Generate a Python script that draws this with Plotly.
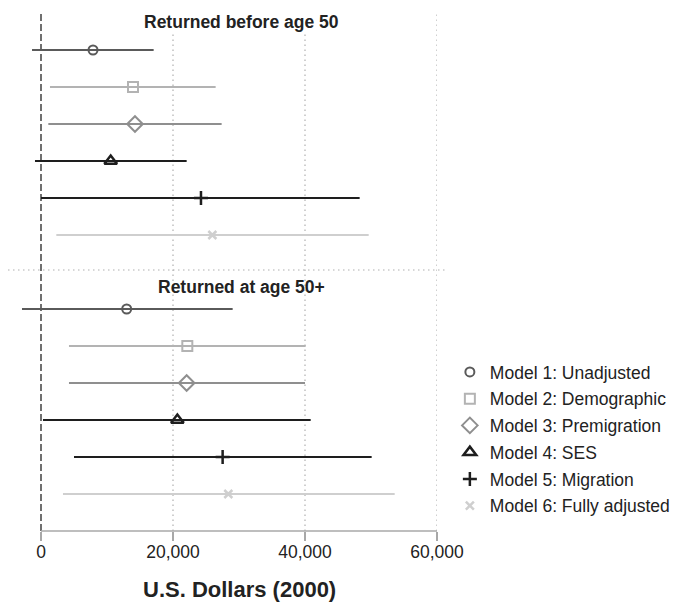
import plotly.graph_objects as go

# Model labels and styling per model
models = ["Model 1: Unadjusted", "Model 2: Demographic", "Model 3: Premigration",
          "Model 4: SES", "Model 5: Migration", "Model 6: Fully adjusted"]
rows = [1, 2, 3, 4, 5, 6]

# Returned before age 50: point estimates and 95% interval bounds
before_est = [7880, 13940, 14240, 10560, 24240, 25960]
before_lo = [-1360, 1360, 1110, -910, 0, 2320]
before_hi = [17070, 26460, 27370, 22070, 48280, 49650]

# Returned at age 50+
after_est = [12980, 22170, 22070, 20660, 27520, 28380]
after_lo = [-2880, 4240, 4240, 300, 5000, 3330]
after_hi = [29040, 40100, 40000, 40860, 50100, 53590]

tick_vals = [0, 20000, 40000, 60000]
tick_text = ["0", "20,000", "40,000", "60,000"]

colors = ["#5a5a5a", "#b3b3b3", "#8f8f8f", "#1e1e1e", "#1e1e1e", "#cfcfcf"]
symbols = ["circle-open", "square-open", "diamond-open", "triangle-up-open",
           "cross-thin-open", "x-thin-open"]
sizes = [9, 10, 12, 11, 10, 8]
mwidths = [2, 2, 2, 2.5, 2.5, 2.5]

FONT = "Liberation Sans, Arial, sans-serif"

fig = go.Figure()


def add_panel(est, lo, hi, yaxis, show):
    for i in range(len(models)):
        fig.add_trace(go.Scatter(
            x=[est[i]], y=[rows[i]], xaxis="x", yaxis=yaxis,
            mode="markers", name=models[i],
            legendgroup=models[i], showlegend=show,
            marker=dict(symbol=symbols[i], size=sizes[i], color=colors[i],
                        line=dict(color=colors[i], width=mwidths[i])),
            error_x=dict(type="data", symmetric=False,
                         array=[hi[i] - est[i]], arrayminus=[est[i] - lo[i]],
                         color=colors[i], thickness=2.2, width=0),
            hoverinfo="x+name",
        ))


add_panel(before_est, before_lo, before_hi, "y", True)
add_panel(after_est, after_lo, after_hi, "y2", False)

split = (531 - 270) / 518  # boundary between the two panels (paper units)
grid_top = (531 - 33) / 518
dot = "1.5px,3.5px"
grid_col = "#b0b0b0"

shapes = []
for v in [20000, 40000]:
    shapes.append(dict(type="line", xref="x", yref="paper", x0=v, x1=v, y0=0, y1=grid_top,
                       line=dict(color=grid_col, width=1.2, dash=dot), layer="below"))
shapes.append(dict(type="line", xref="x", yref="paper", x0=60000, x1=60000, y0=0, y1=1,
                   line=dict(color=grid_col, width=1.2, dash=dot), layer="below"))
shapes.append(dict(type="line", xref="paper", yref="paper", x0=0, x1=1.023, y0=split, y1=split,
                   line=dict(color=grid_col, width=1.2, dash=dot), layer="below"))
shapes.append(dict(type="line", xref="x", yref="paper", x0=0, x1=0, y0=0, y1=1,
                   line=dict(color="#707070", width=2, dash="7px,3px"), layer="below"))
shapes.append(dict(type="line", xref="x", yref="paper", x0=0, x1=60000, y0=0, y1=0,
                   line=dict(color="#a8a8a8", width=1.6), layer="below"))

title_x = (241 - 8) / 429
annotations = [
    dict(text="<b>Returned before age 50</b>", xref="paper", yref="paper",
         x=title_x, y=(531 - 22) / 518, xanchor="center", yanchor="middle",
         showarrow=False, font=dict(family=FONT, size=17.5, color="#222222")),
    dict(text="<b>Returned at age 50+</b>", xref="paper", yref="paper",
         x=title_x, y=(531 - 287) / 518, xanchor="center", yanchor="middle",
         showarrow=False, font=dict(family=FONT, size=17.5, color="#222222")),
    dict(text="<b>U.S. Dollars (2000)</b>", xref="x", yref="paper",
         x=30000, y=(531 - 590) / 518, xanchor="center", yanchor="middle",
         showarrow=False, font=dict(family=FONT, size=22, color="#222222")),
]

hidden_y = dict(showticklabels=False, showgrid=False, zeroline=False, showline=False,
                ticks="", fixedrange=True)

fig.update_layout(
    width=674, height=604,
    margin=dict(l=8, r=237, t=13, b=73, autoexpand=False),
    paper_bgcolor="white", plot_bgcolor="white",
    font=dict(family=FONT, size=17.5, color="#222222"),
    xaxis=dict(range=[-5000, 60000], anchor="y2", tickvals=tick_vals, ticktext=tick_text,
               ticks="outside", ticklen=9, tickwidth=1.6, tickcolor="#a8a8a8",
               ticklabelstandoff=-4,
               showgrid=False, zeroline=False, showline=False,
               tickfont=dict(family=FONT, size=17.5, color="#222222")),
    yaxis=dict(domain=[split, 1], range=[6.946, 0], **hidden_y),
    yaxis2=dict(domain=[0, split], range=[7.0, -0.054], **hidden_y),
    shapes=shapes,
    annotations=annotations,
    showlegend=True,
    legend=dict(x=1.03, y=(531 - 354) / 518, xanchor="left", yanchor="top",
                tracegroupgap=1, font=dict(family=FONT, size=17.5, color="#222222"),
                bgcolor="rgba(0,0,0,0)"),
)

fig.write_html("out.html")
